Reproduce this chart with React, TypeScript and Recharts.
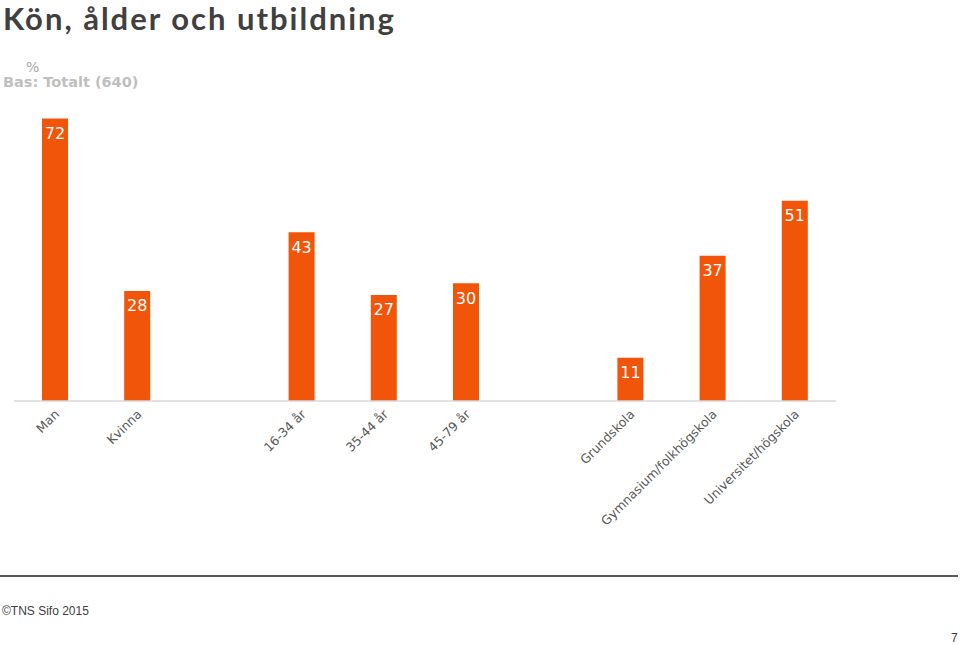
import { BarChart, Bar, XAxis, YAxis, LabelList } from 'recharts'

// kategorier, tomma platser skiljer grupperna åt
const categories = [
  'Man',
  'Kvinna',
  '',
  '16-34 år',
  '35-44 år',
  '45-79 år',
  '',
  'Grundskola',
  'Gymnasium/folkhögskola',
  'Universitet/högskola',
]
const values: (number | null)[] = [72, 28, null, 43, 27, 30, null, 11, 37, 51]

const ORANGE = '#F0550A'

const data = categories.map((name, i) => ({ name, value: values[i] }))

const AngledTick = ({ x, y, payload }: any) => {
  if (!payload?.value) return null
  return (
    <text
      transform={`translate(${x + 5}, ${y + 14}) rotate(-45)`}
      textAnchor="end"
      fill="#595959"
      fontSize={12.5}
      fontFamily="DejaVu Sans, Verdana, sans-serif"
    >
      {payload.value}
    </text>
  )
}

export default function App() {
  return (
    <div
      style={{
        position: 'absolute',
        left: 0,
        top: 0,
        width: 960,
        height: 645,
        background: '#fff',
        overflow: 'hidden',
      }}
    >
      <div
        style={{
          position: 'absolute',
          left: 3,
          top: 3,
          fontFamily: 'Lato, sans-serif',
          fontWeight: 700,
          fontSize: 31,
          lineHeight: '31px',
          letterSpacing: 2,
          color: '#404040',
          whiteSpace: 'nowrap',
        }}
      >
        Kön, ålder och utbildning
      </div>
      <div
        style={{
          position: 'absolute',
          left: 26,
          top: 59,
          fontFamily: 'DejaVu Sans, Verdana, sans-serif',
          fontSize: 14,
          lineHeight: '16px',
          color: '#a6a6a6',
        }}
      >
        %
      </div>
      <div
        style={{
          position: 'absolute',
          left: 3,
          top: 74,
          fontFamily: 'DejaVu Sans, Verdana, sans-serif',
          fontWeight: 700,
          fontSize: 14.5,
          lineHeight: '17px',
          color: '#bfbfbf',
          whiteSpace: 'nowrap',
        }}
      >
        Bas: Totalt (640)
      </div>

      <div style={{ position: 'absolute', left: 0, top: 0 }}>
        <BarChart
          width={960}
          height={645}
          data={data}
          margin={{ top: 87, right: 124, left: 14, bottom: 124 }}
        >
          <XAxis
            dataKey="name"
            height={120}
            interval={0}
            tickSize={0}
            tickMargin={0}
            tickLine={false}
            axisLine={{ stroke: '#d9d9d9', strokeWidth: 1.5 }}
            tick={<AngledTick />}
          />
          <YAxis hide domain={[0, 80]} />
          <Bar dataKey="value" fill={ORANGE} barSize={26} isAnimationActive={false}>
            <LabelList
              dataKey="value"
              position="insideTop"
              offset={9}
              fill="#ffffff"
              fontSize={16}
              fontFamily="DejaVu Sans, Verdana, sans-serif"
            />
          </Bar>
        </BarChart>
      </div>

      <div
        style={{
          position: 'absolute',
          left: 0,
          top: 575,
          width: 958,
          height: 2,
          background: '#595959',
        }}
      />
      <div
        style={{
          position: 'absolute',
          left: 2,
          top: 604,
          fontFamily: 'Liberation Sans, Arial, sans-serif',
          fontSize: 12,
          color: '#404040',
          whiteSpace: 'nowrap',
        }}
      >
        ©TNS Sifo 2015
      </div>
      <div
        style={{
          position: 'absolute',
          left: 951,
          top: 631,
          fontFamily: 'Liberation Sans, Arial, sans-serif',
          fontSize: 12,
          color: '#404040',
        }}
      >
        7
      </div>
    </div>
  )
}
